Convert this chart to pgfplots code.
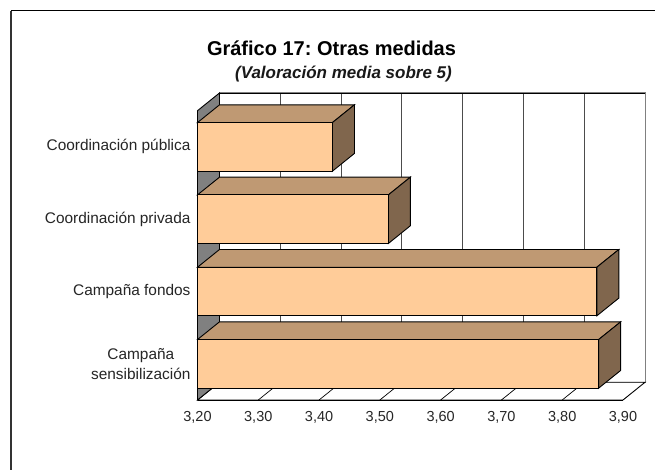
\documentclass[border=0pt]{standalone}
\usepackage{fontspec}
\setmainfont{Liberation Sans}
\usepackage{pgfplots}
\pgfplotsset{compat=1.18}
\definecolor{frontc}{HTML}{FFCC99}
\definecolor{topc}{HTML}{BF9973}
\definecolor{sidec}{HTML}{80664D}
\definecolor{wallc}{HTML}{808080}
\begin{document}
\frenchspacing
\begin{tikzpicture}[x=1pt,y=1pt]
\path[use as bounding box,fill=white] (0,0) rectangle (660,470);
\draw[black!80,line width=1.2pt] (11,459) -- (11,0);
\draw[black,line width=1pt] (11,459) -- (655,459);
\node[font=\fontsize{20}{22}\selectfont\bfseries] at (331.5,422) {Gráfico 17: Otras medidas};
\node[font=\fontsize{17}{18}\selectfont\bfseries\itshape,text=black!90] at (343.5,396) {(Valoración media sobre 5)};
\begin{axis}[
  at={(197.5pt,70pt)}, anchor=south west,
  scale only axis, width=425.5pt, height=289.3pt,
  xmin=3.2, xmax=3.9, ymin=-0.5, ymax=3.5,
  axis x line*=bottom, axis y line*=left,
  axis line style={-,black,line width=0.9pt},
  clip=false,
  xtick={3.2,3.3,3.4,3.5,3.6,3.7,3.8,3.9},
  ytick={0,1,2,3},
  yticklabels={{Campaña\\sensibilización},Campaña fondos,Coordinación privada,Coordinación pública},
  yticklabel style={font=\fontsize{15.4}{20}\selectfont,align=center,text=black!85,xshift=-3.5pt},
  xticklabel style={font=\fontsize{14.5}{16}\selectfont,text=black!85,yshift=-8pt},
  major tick length=0pt,
  /pgf/number format/.cd,fixed,fixed zerofill,precision=2,use comma,assume math mode=true,
]
% back wall and floor
\addplot[fill=white,draw=black!50,line width=1pt,mark=none] coordinates {(3.2362,-0.255)(3.9362,-0.255)(3.9362,3.745)(3.2362,3.745)} -- cycle;
\addplot[fill=white,draw=black,line width=0.9pt,mark=none] coordinates {(3.2,-0.5)(3.9,-0.5)(3.9362,-0.255)(3.2362,-0.255)} -- cycle;
% gridlines on back wall
\addplot[black!70,line width=0.9pt] coordinates {(3.3362,-0.255)(3.3362,3.745)};
\addplot[black!70,line width=0.9pt] coordinates {(3.4362,-0.255)(3.4362,3.745)};
\addplot[black!70,line width=0.9pt] coordinates {(3.5362,-0.255)(3.5362,3.745)};
\addplot[black!70,line width=0.9pt] coordinates {(3.6362,-0.255)(3.6362,3.745)};
\addplot[black!70,line width=0.9pt] coordinates {(3.7362,-0.255)(3.7362,3.745)};
\addplot[black!70,line width=0.9pt] coordinates {(3.8362,-0.255)(3.8362,3.745)};
\addplot[black,line width=0.9pt] coordinates {(3.2362,3.745)(3.9362,3.745)};
% floor lines
\addplot[black,line width=0.7pt] coordinates {(3.3,-0.5)(3.3362,-0.255)};
\addplot[black,line width=0.7pt] coordinates {(3.4,-0.5)(3.4362,-0.255)};
\addplot[black,line width=0.7pt] coordinates {(3.5,-0.5)(3.5362,-0.255)};
\addplot[black,line width=0.7pt] coordinates {(3.6,-0.5)(3.6362,-0.255)};
\addplot[black,line width=0.7pt] coordinates {(3.7,-0.5)(3.7362,-0.255)};
\addplot[black,line width=0.7pt] coordinates {(3.8,-0.5)(3.8362,-0.255)};
% left wall
\addplot[fill=wallc,draw=black,line width=0.9pt,mark=none] coordinates {(3.2,-0.5)(3.2362,-0.255)(3.2362,3.745)(3.2,3.5)} -- cycle;
% bars: top face, side face, front face
\addplot[fill=topc,draw=black,line width=0.9pt] coordinates {(3.2,0.336)(3.86,0.336)(3.8962,0.581)(3.2362,0.581)} -- cycle;
\addplot[fill=sidec,draw=black,line width=0.9pt] coordinates {(3.86,-0.336)(3.8962,-0.091)(3.8962,0.581)(3.86,0.336)} -- cycle;
\addplot[fill=frontc,draw=black,line width=0.9pt] coordinates {(3.2,-0.336)(3.86,-0.336)(3.86,0.336)(3.2,0.336)} -- cycle;
\addplot[fill=topc,draw=black,line width=0.9pt] coordinates {(3.2,1.336)(3.857,1.336)(3.8932,1.581)(3.2362,1.581)} -- cycle;
\addplot[fill=sidec,draw=black,line width=0.9pt] coordinates {(3.857,0.664)(3.8932,0.909)(3.8932,1.581)(3.857,1.336)} -- cycle;
\addplot[fill=frontc,draw=black,line width=0.9pt] coordinates {(3.2,0.664)(3.857,0.664)(3.857,1.336)(3.2,1.336)} -- cycle;
\addplot[fill=topc,draw=black,line width=0.9pt] coordinates {(3.2,2.336)(3.514,2.336)(3.5502,2.581)(3.2362,2.581)} -- cycle;
\addplot[fill=sidec,draw=black,line width=0.9pt] coordinates {(3.514,1.664)(3.5502,1.909)(3.5502,2.581)(3.514,2.336)} -- cycle;
\addplot[fill=frontc,draw=black,line width=0.9pt] coordinates {(3.2,1.664)(3.514,1.664)(3.514,2.336)(3.2,2.336)} -- cycle;
\addplot[fill=topc,draw=black,line width=0.9pt] coordinates {(3.2,3.336)(3.422,3.336)(3.4582,3.581)(3.2362,3.581)} -- cycle;
\addplot[fill=sidec,draw=black,line width=0.9pt] coordinates {(3.422,2.664)(3.4582,2.909)(3.4582,3.581)(3.422,3.336)} -- cycle;
\addplot[fill=frontc,draw=black,line width=0.9pt] coordinates {(3.2,2.664)(3.422,2.664)(3.422,3.336)(3.2,3.336)} -- cycle;
\end{axis}
\end{tikzpicture}
\end{document}
